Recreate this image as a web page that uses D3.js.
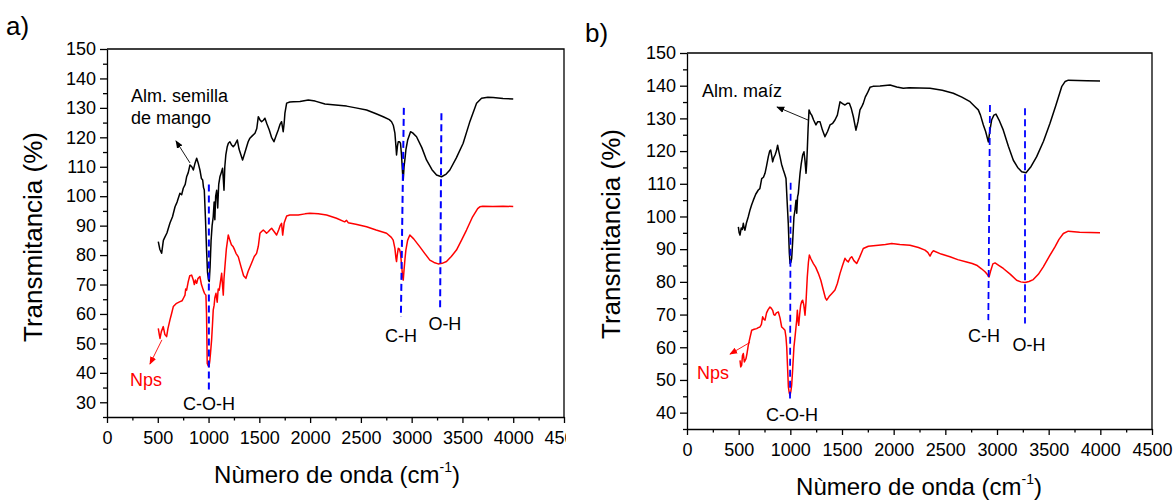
<!DOCTYPE html>
<html>
<head>
<meta charset="utf-8">
<script src="https://cdn.jsdelivr.net/npm/d3@7"></script>
<style>
  html, body { margin: 0; padding: 0; background: #fff; }
  svg { display: block; font-family: "Liberation Sans", Arial, sans-serif; }
</style>
</head>
<body>
<svg id="chart" width="1173" height="500"></svg>
<script>
// ---------- DATA ----------
const xTicks = [0, 500, 1000, 1500, 2000, 2500, 3000, 3500, 4000, 4500];
const yTicksA = [30, 40, 50, 60, 70, 80, 90, 100, 110, 120, 130, 140, 150];
const yTicksB = [40, 50, 60, 70, 80, 90, 100, 110, 120, 130, 140, 150];
const xTitle = "Nùmero de onda (cm";
const xTitleSup = "-1";
const yTitle = "Transmitancia (%)";

// Panel a) — Alm. semilla de mango (black)
const waveA_alm = [505,520,538,555,571,590,620,645,670,690,718,735,751,770,784,800,817,835,850,865,883,900,915,930,942,950,958,970,980,990,1000,1007,1015,1025,1035,1046,1055,1062,1070,1080,1090,1100,1112,1125,1138,1145,1152,1160,1170,1184,1195,1210,1225,1243,1260,1283,1300,1335,1355,1375,1390,1407,1430,1457,1475,1490,1505,1522,1540,1555,1575,1598,1620,1644,1665,1686,1705,1719,1735,1745,1752,1769,1800,1835,1900,1982,2050,2146,2250,2359,2450,2556,2650,2720,2780,2802,2820,2835,2845,2851,2860,2868,2880,2890,2900,2910,2917,2925,2935,2943,2960,2989,3010,3048,3100,3146,3200,3245,3294,3340,3376,3440,3507,3570,3639,3688,3750,3802,3900,4000];
const transA_alm = [84.6,82,80.6,85,86.2,87.5,90.9,93,96.4,98,101,100.5,102.7,104,106.6,108,110.6,110,108.9,111,112.9,111,108.9,106,105.5,103,102.1,92,82,74,71.5,71,76,85,90,93,98,92,100,102,96,104,106.6,108,109.5,106,102,110,114,116.8,118,118.5,117.5,116.8,117.5,119.1,116,112.3,114.5,116.8,118.5,119.7,120.5,121.4,123,127,126,125.3,125.8,126.5,124.5,122.5,120,118.5,120.5,122.5,124.5,125.3,121.9,125,128.2,131.6,132,132.1,132.2,132.7,132.3,131.3,131,130.6,130,129.3,128,127,126,125.3,124,121.4,117,114,117,118.5,118.5,118,114,108,105.5,110,113,115.7,119,121.9,121.5,120.2,116.5,112.3,109,107.2,106.6,107.5,108.9,113,118,125,131.6,133.3,133.6,133.5,133.2,133];

// Panel a) — Nps (red)
const waveA_nps = [505,515,522,535,554,570,587,600,620,635,653,680,719,740,755,768,775,784,800,815,833,850,860,870,883,895,915,930,948,960,974,980,987,995,1004,1012,1020,1030,1038,1046,1055,1062,1073,1085,1095,1105,1115,1129,1137,1145,1152,1161,1175,1194,1210,1225,1243,1260,1270,1293,1320,1345,1368,1390,1420,1450,1473,1490,1506,1522,1539,1555,1571,1590,1605,1621,1645,1670,1690,1705,1719,1730,1745,1769,1800,1883,1950,1998,2080,2162,2260,2340,2359,2375,2450,2556,2650,2753,2800,2818,2835,2845,2851,2858,2868,2880,2890,2900,2910,2917,2925,2935,2943,2960,2982,3020,3081,3130,3179,3220,3261,3300,3343,3390,3441,3490,3540,3600,3650,3671,3700,3800,3900,4000];
const transA_nps = [55.1,53,51.7,54,55.7,53,52.3,55,58,60,62.5,63.5,64.2,64.5,65.5,66.4,68.5,68.1,71,73,73.2,71.5,70,71.5,70.4,72,72.7,70,68.1,67,66.4,60,43.2,42.5,42.1,44,47,51.2,56,61.3,63,65.5,67,64,68.5,68.1,70.5,73.8,70,66.4,72,76,82,86.8,85,83.5,82.8,81.5,80.6,79.4,76,73,72.1,74.5,77,79.5,80.6,83,87.4,88,88.5,88,87.4,88,88.6,89.1,88,86.8,88.5,90,90.8,86.8,91,93.3,93.6,93.6,94,94.2,94,93.6,92.5,91.3,91.8,91,90.5,89.6,88.5,87.4,86,85.1,82.3,79,77.8,80,82.3,82,80.6,77,73,71.5,75,79,81.7,85,86.8,85.5,82.8,80.5,78.3,77.5,77,77.2,77.8,79.5,81.7,85,88.5,93,95.8,96.4,96.6,96.5,96.6,96.5];

// Panel b) — Alm. maíz (black)
const waveB_alm = [497,505,513,525,535,545,553,561,575,593,610,625,642,665,690,705,723,740,755,770,787,800,810,820,829,840,852,865,877,888,900,915,932,945,958,970,980,990,997,1005,1013,1022,1035,1045,1055,1062,1070,1077,1085,1094,1105,1119,1132,1142,1152,1158,1164,1172,1181,1195,1207,1225,1248,1265,1287,1310,1335,1360,1384,1410,1432,1455,1481,1505,1529,1550,1571,1590,1610,1635,1655,1674,1690,1706,1725,1745,1771,1800,1868,1965,2030,2093,2150,2250,2352,2470,2577,2660,2739,2790,2819,2840,2868,2890,2916,2930,2948,2970,2990,3020,3061,3110,3158,3200,3239,3281,3330,3384,3450,3513,3570,3626,3660,3690,3780,3868,3997];
const transB_alm = [96.8,95,94.3,96.5,96,97.9,96.5,95.8,98,99.9,102,103.5,105,106.8,108.1,108.5,111.6,112,113.2,115.5,118.3,120,120.3,118.5,116.7,118,118.8,120,121.8,120,118.3,116,114.2,113,111.6,104,97.9,89,85.6,86,87.2,92,99.9,102,105,101,106,107,110,113.2,116,118.8,119.8,117,113.2,116,120.3,127,132.6,131.5,131,129.5,128,129,129,126.5,124.4,126,128,128.5,129.5,131,135.1,134.5,134.1,134.6,134.6,133,130.5,126.4,129,132.6,133.5,134.6,136.5,137.7,139.5,139.8,139.9,140.2,139.6,139.2,139.4,139.3,139.2,138.6,137.7,136.5,135.1,133.5,132.6,131,128,126,122.8,126,129.5,131,131.3,129.5,126.4,121.5,117.2,115,113.7,113.4,115.3,118.3,123,128.5,134,139.7,141.3,141.7,141.6,141.5,141.4];

// Panel b) — Nps (red)
const waveB_nps = [513,520,529,537,545,555,571,580,593,610,626,650,674,690,706,720,732,745,755,770,785,803,815,829,840,852,865,884,900,916,930,948,958,965,973,981,990,997,1005,1013,1022,1035,1045,1055,1062,1068,1075,1081,1090,1100,1110,1119,1130,1142,1152,1164,1175,1184,1200,1223,1245,1271,1295,1319,1340,1352,1375,1400,1432,1455,1481,1505,1529,1545,1561,1580,1594,1615,1642,1670,1706,1755,1852,1920,1981,2060,2158,2240,2303,2330,2352,2370,2384,2460,2545,2620,2706,2760,2803,2850,2884,2905,2923,2940,2960,2981,3020,3061,3130,3190,3230,3271,3310,3351,3400,3448,3510,3561,3600,3642,3690,3800,3900,3997];
const transB_nps = [56,54,54.5,57.5,58.1,55.5,56.5,58,60.6,63,65.2,65.5,65.7,66,66.2,67,69.3,68.5,68.3,70.5,71.5,72.3,72,71.3,70,69.8,70.5,70.8,69,66.2,65.8,65.2,63,60.1,54,47.9,46,45.3,46.5,48.4,53,60.1,63,66.2,68.5,71.3,68,66.7,70,72.9,74,74.4,73,69.8,74,81.5,86,88.2,87,85.6,84.5,82.6,80.5,77.5,75,74.4,75.5,76.4,77.5,79.5,82.6,85,87.2,86.5,86.1,87.3,87.7,86.5,85.6,87.5,90.2,90.9,91.2,91.4,91.7,91.4,91.2,90.5,89.7,89,87.9,89,89.5,88.5,87.7,86.8,86.1,85.6,85.1,84,83.1,82.3,81.5,83.5,85.5,85.8,85,84.1,82.3,80.5,80,79.8,80.1,80.7,82.3,84.6,88,90.7,93,94.8,95.5,95.2,95.1,95];

// Band marker lines (wavenumber, transmittance) start/end
const bandsA = [
  {x1: 1003, y1: 104, x2: 1003, y2: 33},
  {x1: 2923, y1: 130, x2: 2894, y2: 59},
  {x1: 3293, y1: 128.2, x2: 3280, y2: 62}
];
const bandsB = [
  {x1: 1003, y1: 110.3, x2: 997, y2: 44.3},
  {x1: 2932, y1: 134.1, x2: 2916, y2: 68.3},
  {x1: 3271, y1: 133.1, x2: 3271, y2: 67.3}
];

// Annotation labels (data coords)
const labelsA = [
  {t: "Alm. semilla", x: 236, y: 132, c: "#000", a: "start"},
  {t: "de mango", x: 236, y: 124.5, c: "#000", a: "start"},
  {t: "Nps", x: 226, y: 35.5, c: "#ff0000", a: "start"},
  {t: "C-O-H", x: 1004, y: 27.4, c: "#000", a: "middle"},
  {t: "C-H", x: 2894, y: 50.5, c: "#000", a: "middle"},
  {t: "O-H", x: 3327, y: 54.6, c: "#000", a: "middle"}
];
const labelsB = [
  {t: "Alm. maíz", x: 145, y: 136.5, c: "#000", a: "start"},
  {t: "Nps", x: 97, y: 50.2, c: "#ff0000", a: "start"},
  {t: "C-O-H", x: 1016, y: 37.4, c: "#000", a: "middle"},
  {t: "C-H", x: 2874, y: 61.5, c: "#000", a: "middle"},
  {t: "O-H", x: 3310, y: 58.8, c: "#000", a: "middle"}
];
const arrowsA = [
  {x1: 817, y1: 111.3, x2: 679, y2: 118.8, c: "#000"},
  {x1: 541, y1: 51.2, x2: 423, y2: 43, c: "#ff0000"}
];
const arrowsB = [
  {x1: 1171, y1: 129.5, x2: 871, y2: 133.5, c: "#000"},
  {x1: 610, y1: 61.5, x2: 416, y2: 57.9, c: "#ff0000"}
];

// ---------- DRAW ----------
const svg = d3.select("#chart");
const FONT = '"Liberation Sans", Arial, sans-serif';

const defs = svg.append("defs");
["#000", "#ff0000"].forEach((c, i) => {
  defs.append("marker")
    .attr("id", "arr" + i)
    .attr("viewBox", "0 0 10 10")
    .attr("refX", 9).attr("refY", 5)
    .attr("markerUnits", "userSpaceOnUse")
    .attr("markerWidth", 8).attr("markerHeight", 8)
    .attr("orient", "auto")
    .append("path").attr("d", "M0,1 L10,5 L0,9 Z").attr("fill", c);
});
defs.append("clipPath").attr("id", "clipA")
  .append("rect").attr("x", 0).attr("y", 0).attr("width", 566).attr("height", 500);

function panel(opt) {
  const g = svg.append("g");
  if (opt.clip) g.attr("clip-path", "url(#" + opt.clip + ")");
  const x = d3.scaleLinear().domain([0, 4500]).range([opt.left, opt.right]);
  const y = d3.scaleLinear().domain(opt.ydom).range([opt.bottom, opt.top]);

  // series
  const line = d3.line().x(d => x(d[0])).y(d => y(d[1]));
  opt.series.forEach(s => {
    g.append("path")
      .datum(d3.zip(s.wave, s.trans))
      .attr("d", line)
      .attr("fill", "none")
      .attr("stroke", s.color)
      .attr("stroke-width", 1.5)
      .attr("stroke-linejoin", "round");
  });

  // band lines
  opt.bands.forEach(b => {
    g.append("line")
      .attr("x1", x(b.x1)).attr("y1", y(b.y1))
      .attr("x2", x(b.x2)).attr("y2", y(b.y2))
      .attr("stroke", "#0000ff").attr("stroke-width", opt.bandW)
      .attr("stroke-dasharray", "7,4");
  });

  // frame (top & right)
  g.append("path")
    .attr("d", `M${opt.left},${opt.top}H${opt.right}V${opt.bottom}`)
    .attr("fill", "none").attr("stroke", "#000").attr("stroke-width", 1.3);

  // minor ticks
  const xMinor = d3.range(250, 4500, 500);
  const yMinor = d3.range(opt.ydom[0] + (opt.ydom[0] % 10 === 0 ? 5 : 0), opt.ydom[1], 10)
    .filter(v => v % 10 !== 0);
  g.append("g").attr("transform", `translate(0,${opt.bottom})`)
    .call(d3.axisBottom(x).tickValues(xMinor).tickSize(3.5).tickFormat(""))
    .call(a => a.select(".domain").remove())
    .selectAll("line").attr("stroke-width", 1.3);
  g.append("g").attr("transform", `translate(${opt.left},0)`)
    .call(d3.axisLeft(y).tickValues(yMinor).tickSize(4).tickFormat(""))
    .call(a => a.select(".domain").remove())
    .selectAll("line").attr("stroke-width", 1.3);

  // major axes
  const xa = g.append("g").attr("transform", `translate(0,${opt.bottom})`)
    .call(d3.axisBottom(x).tickValues(xTicks).tickSize(6).tickPadding(8).tickSizeOuter(0).tickFormat(d3.format("d")));
  xa.selectAll("text").attr("font-size", 18).attr("font-family", FONT).attr("fill", "#000");
  xa.selectAll("line, path").attr("stroke-width", 1.3);
  const ya = g.append("g").attr("transform", `translate(${opt.left},0)`)
    .call(d3.axisLeft(y).tickValues(opt.yticks).tickSize(7).tickPadding(4).tickSizeOuter(0));
  ya.selectAll("text").attr("font-size", 18).attr("font-family", FONT).attr("fill", "#000");
  ya.selectAll("line, path").attr("stroke-width", 1.3);

  // labels
  opt.labels.forEach(l => {
    g.append("text").attr("x", x(l.x)).attr("y", y(l.y))
      .attr("text-anchor", l.a).attr("fill", l.c)
      .attr("font-size", 18).text(l.t);
  });
  opt.arrows.forEach(a => {
    g.append("line")
      .attr("x1", x(a.x1)).attr("y1", y(a.y1))
      .attr("x2", x(a.x2)).attr("y2", y(a.y2))
      .attr("stroke", a.c).attr("stroke-width", 0.9)
      .attr("marker-end", `url(#arr${a.c === "#000" ? 0 : 1})`);
  });

  // axis titles
  const xt = svg.append("text")
    .attr("x", opt.xTitlePos[0]).attr("y", opt.xTitlePos[1])
    .attr("text-anchor", "middle").attr("font-size", 24).attr("fill", "#000");
  xt.append("tspan").text(xTitle);
  xt.append("tspan").attr("font-size", 14).attr("dy", -11).text(xTitleSup);
  xt.append("tspan").attr("dy", 11).text(")");

  svg.append("text")
    .attr("transform", `translate(${opt.yTitlePos[0]},${opt.yTitlePos[1]}) rotate(-90)`)
    .attr("text-anchor", "middle").attr("font-size", 26).attr("fill", "#000")
    .text(yTitle);

  svg.append("text").attr("x", opt.tag[0]).attr("y", opt.tag[1])
    .attr("font-size", 26).attr("fill", "#000").text(opt.tag[2]);
}

panel({
  left: 107, right: 564, top: 49, bottom: 417, ydom: [25, 150], yticks: yTicksA,
  clip: "clipA",
  series: [
    {wave: waveA_alm, trans: transA_alm, color: "#000"},
    {wave: waveA_nps, trans: transA_nps, color: "#ff0000"}
  ],
  bands: bandsA, bandW: 2, labels: labelsA, arrows: arrowsA,
  xTitlePos: [337, 483], yTitlePos: [42, 237], tag: [6, 35, "a)"]
});

panel({
  left: 687, right: 1152, top: 53, bottom: 429, ydom: [35, 150], yticks: yTicksB,
  series: [
    {wave: waveB_alm, trans: transB_alm, color: "#000"},
    {wave: waveB_nps, trans: transB_nps, color: "#ff0000"}
  ],
  bands: bandsB, bandW: 1.8, labels: labelsB, arrows: arrowsB,
  xTitlePos: [919, 495], yTitlePos: [620, 234], tag: [585, 42, "b)"]
});
</script>
</body>
</html>
